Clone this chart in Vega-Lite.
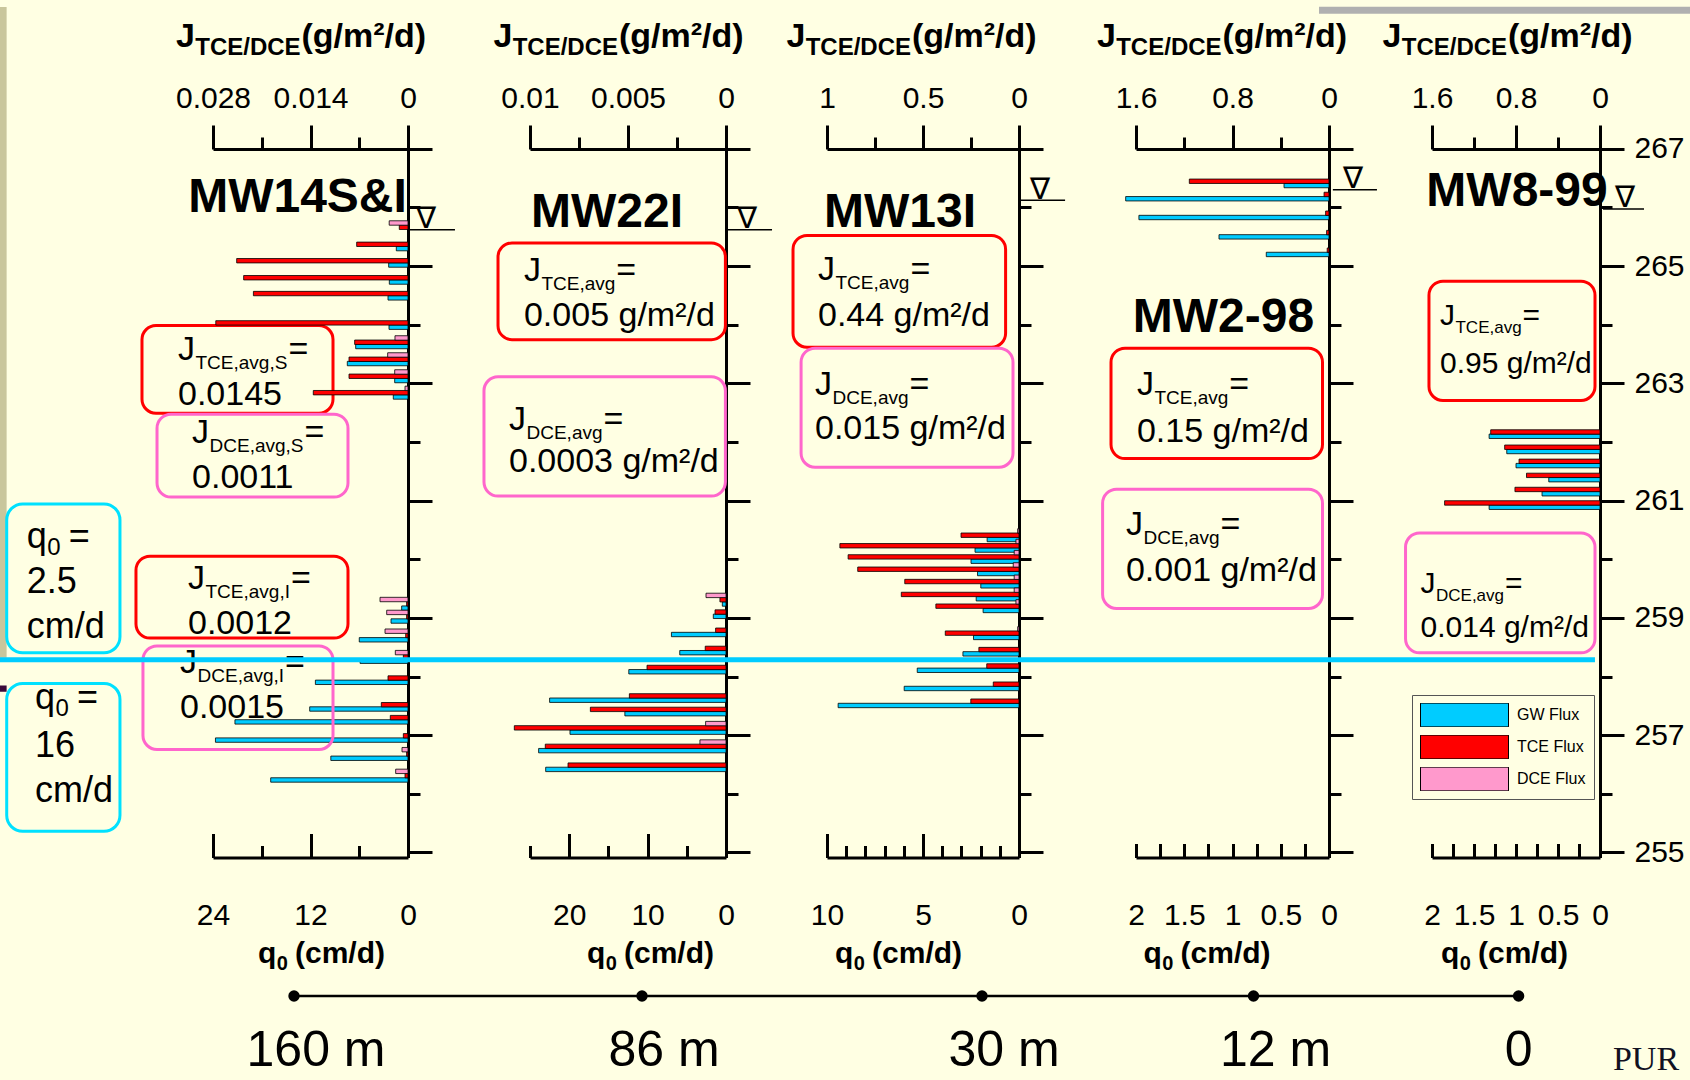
{
"$schema": "https://vega.github.io/schema/vega-lite/v6.json",
"width": 1690,
"height": 1080,
"autosize": "none",
"padding": 0,
"background": "#FFFFE3",
"config": {
 "view": {"stroke": null},
 "axis": {"disable": true, "grid": false, "domainColor": "black", "domainWidth": 3, "tickColor": "black", "tickWidth": 3, "labelFont": "Liberation Sans", "labelFontSize": 30, "labelColor": "black", "labelOverlap": false, "labelFlush": false, "labelBound": false},
 "text": {"font": "Liberation Sans", "color": "black", "align": "left", "baseline": "alphabetic"}
},
"data": {"values": [{}]},
"datasets": {
 "flux": [
{"well":"MW14S&I","series":"TCE Flux","elev":265.66,"value":0.00125},
{"well":"MW14S&I","series":"TCE Flux","elev":265.37,"value":0.00737},
{"well":"MW14S&I","series":"TCE Flux","elev":265.09,"value":0.0246},
{"well":"MW14S&I","series":"TCE Flux","elev":264.8,"value":0.0236},
{"well":"MW14S&I","series":"TCE Flux","elev":264.53,"value":0.0222},
{"well":"MW14S&I","series":"TCE Flux","elev":264.03,"value":0.0276},
{"well":"MW14S&I","series":"TCE Flux","elev":263.7,"value":0.00766},
{"well":"MW14S&I","series":"TCE Flux","elev":263.41,"value":0.00847},
{"well":"MW14S&I","series":"TCE Flux","elev":263.12,"value":0.00847},
{"well":"MW14S&I","series":"TCE Flux","elev":262.84,"value":0.0136},
{"well":"MW14S&I","series":"TCE Flux","elev":259.24,"value":0.0002},
{"well":"MW14S&I","series":"TCE Flux","elev":259.02,"value":0.0002},
{"well":"MW14S&I","series":"TCE Flux","elev":258.7,"value":0.00033},
{"well":"MW14S&I","series":"TCE Flux","elev":258.335,"value":0.00067},
{"well":"MW14S&I","series":"TCE Flux","elev":257.975,"value":0.00287},
{"well":"MW14S&I","series":"TCE Flux","elev":257.52,"value":0.00383},
{"well":"MW14S&I","series":"TCE Flux","elev":257.3,"value":0.00254},
{"well":"MW14S&I","series":"TCE Flux","elev":256.99,"value":0.00067},
{"well":"MW14S&I","series":"TCE Flux","elev":256.68,"value":0.0002},
{"well":"MW14S&I","series":"TCE Flux","elev":256.31,"value":0.00043},
{"well":"MW14S&I","series":"DCE Flux","elev":265.66,"value":0.0027},
{"well":"MW14S&I","series":"DCE Flux","elev":263.7,"value":0.00187},
{"well":"MW14S&I","series":"DCE Flux","elev":263.41,"value":0.00292},
{"well":"MW14S&I","series":"DCE Flux","elev":263.12,"value":0.00191},
{"well":"MW14S&I","series":"DCE Flux","elev":262.84,"value":0.00043},
{"well":"MW14S&I","series":"DCE Flux","elev":259.24,"value":0.00402},
{"well":"MW14S&I","series":"DCE Flux","elev":259.02,"value":0.00306},
{"well":"MW14S&I","series":"DCE Flux","elev":258.7,"value":0.0033},
{"well":"MW14S&I","series":"DCE Flux","elev":258.335,"value":0.00182},
{"well":"MW14S&I","series":"DCE Flux","elev":256.68,"value":0.00086},
{"well":"MW14S&I","series":"DCE Flux","elev":256.31,"value":0.00177},
{"well":"MW14S&I","series":"GW Flux","elev":265.37,"value":1.44},
{"well":"MW14S&I","series":"GW Flux","elev":265.09,"value":2.38},
{"well":"MW14S&I","series":"GW Flux","elev":264.8,"value":2.3},
{"well":"MW14S&I","series":"GW Flux","elev":264.53,"value":2.46},
{"well":"MW14S&I","series":"GW Flux","elev":264.03,"value":2.34},
{"well":"MW14S&I","series":"GW Flux","elev":263.7,"value":6.44},
{"well":"MW14S&I","series":"GW Flux","elev":263.41,"value":7.47},
{"well":"MW14S&I","series":"GW Flux","elev":263.12,"value":1.64},
{"well":"MW14S&I","series":"GW Flux","elev":262.84,"value":1.81},
{"well":"MW14S&I","series":"GW Flux","elev":259.24,"value":0.78},
{"well":"MW14S&I","series":"GW Flux","elev":259.02,"value":2.09},
{"well":"MW14S&I","series":"GW Flux","elev":258.7,"value":6.0},
{"well":"MW14S&I","series":"GW Flux","elev":258.335,"value":5.9},
{"well":"MW14S&I","series":"GW Flux","elev":257.975,"value":11.4},
{"well":"MW14S&I","series":"GW Flux","elev":257.52,"value":12.1},
{"well":"MW14S&I","series":"GW Flux","elev":257.3,"value":21.3},
{"well":"MW14S&I","series":"GW Flux","elev":256.99,"value":23.7},
{"well":"MW14S&I","series":"GW Flux","elev":256.68,"value":9.5},
{"well":"MW14S&I","series":"GW Flux","elev":256.31,"value":16.9},
{"well":"MW22I","series":"TCE Flux","elev":259.31,"value":0.00031},
{"well":"MW22I","series":"TCE Flux","elev":259.1,"value":0.00056},
{"well":"MW22I","series":"TCE Flux","elev":258.79,"value":0.00053},
{"well":"MW22I","series":"TCE Flux","elev":258.48,"value":0.00106},
{"well":"MW22I","series":"TCE Flux","elev":258.155,"value":0.00403},
{"well":"MW22I","series":"TCE Flux","elev":257.67,"value":0.00493},
{"well":"MW22I","series":"TCE Flux","elev":257.44,"value":0.00692},
{"well":"MW22I","series":"TCE Flux","elev":257.125,"value":0.0108},
{"well":"MW22I","series":"TCE Flux","elev":256.81,"value":0.00922},
{"well":"MW22I","series":"TCE Flux","elev":256.49,"value":0.00806},
{"well":"MW22I","series":"DCE Flux","elev":259.31,"value":0.00102},
{"well":"MW22I","series":"DCE Flux","elev":257.125,"value":0.00104},
{"well":"MW22I","series":"DCE Flux","elev":256.81,"value":0.00133},
{"well":"MW22I","series":"GW Flux","elev":259.31,"value":0.47},
{"well":"MW22I","series":"GW Flux","elev":259.1,"value":1.62},
{"well":"MW22I","series":"GW Flux","elev":258.79,"value":6.96},
{"well":"MW22I","series":"GW Flux","elev":258.48,"value":5.9},
{"well":"MW22I","series":"GW Flux","elev":258.155,"value":12.4},
{"well":"MW22I","series":"GW Flux","elev":257.67,"value":22.5},
{"well":"MW22I","series":"GW Flux","elev":257.44,"value":12.9},
{"well":"MW22I","series":"GW Flux","elev":257.125,"value":19.9},
{"well":"MW22I","series":"GW Flux","elev":256.81,"value":23.9},
{"well":"MW22I","series":"GW Flux","elev":256.49,"value":23.0},
{"well":"MW13I","series":"TCE Flux","elev":260.41,"value":0.302},
{"well":"MW13I","series":"TCE Flux","elev":260.23,"value":0.933},
{"well":"MW13I","series":"TCE Flux","elev":260.04,"value":0.89},
{"well":"MW13I","series":"TCE Flux","elev":259.83,"value":0.84},
{"well":"MW13I","series":"TCE Flux","elev":259.62,"value":0.595},
{"well":"MW13I","series":"TCE Flux","elev":259.4,"value":0.613},
{"well":"MW13I","series":"TCE Flux","elev":259.2,"value":0.433},
{"well":"MW13I","series":"TCE Flux","elev":258.74,"value":0.384},
{"well":"MW13I","series":"TCE Flux","elev":258.46,"value":0.209},
{"well":"MW13I","series":"TCE Flux","elev":258.18,"value":0.168},
{"well":"MW13I","series":"TCE Flux","elev":257.87,"value":0.134},
{"well":"MW13I","series":"TCE Flux","elev":257.58,"value":0.251},
{"well":"MW13I","series":"DCE Flux","elev":260.41,"value":0.007},
{"well":"MW13I","series":"DCE Flux","elev":260.23,"value":0.016},
{"well":"MW13I","series":"DCE Flux","elev":260.04,"value":0.025},
{"well":"MW13I","series":"DCE Flux","elev":259.83,"value":0.03},
{"well":"MW13I","series":"DCE Flux","elev":259.62,"value":0.025},
{"well":"MW13I","series":"DCE Flux","elev":259.4,"value":0.025},
{"well":"MW13I","series":"DCE Flux","elev":259.2,"value":0.016},
{"well":"MW13I","series":"DCE Flux","elev":258.74,"value":0.007},
{"well":"MW13I","series":"GW Flux","elev":260.41,"value":1.66},
{"well":"MW13I","series":"GW Flux","elev":260.23,"value":2.29},
{"well":"MW13I","series":"GW Flux","elev":260.04,"value":2.5},
{"well":"MW13I","series":"GW Flux","elev":259.83,"value":2.16},
{"well":"MW13I","series":"GW Flux","elev":259.62,"value":1.99},
{"well":"MW13I","series":"GW Flux","elev":259.4,"value":2.23},
{"well":"MW13I","series":"GW Flux","elev":259.2,"value":1.87},
{"well":"MW13I","series":"GW Flux","elev":258.74,"value":2.37},
{"well":"MW13I","series":"GW Flux","elev":258.46,"value":2.92},
{"well":"MW13I","series":"GW Flux","elev":258.18,"value":5.3},
{"well":"MW13I","series":"GW Flux","elev":257.87,"value":5.98},
{"well":"MW13I","series":"GW Flux","elev":257.58,"value":9.42},
{"well":"MW2-98","series":"TCE Flux","elev":266.445,"value":1.158},
{"well":"MW2-98","series":"TCE Flux","elev":266.22,"value":0.041},
{"well":"MW2-98","series":"TCE Flux","elev":265.9,"value":0.028},
{"well":"MW2-98","series":"TCE Flux","elev":265.57,"value":0.02},
{"well":"MW2-98","series":"TCE Flux","elev":265.27,"value":0.015},
{"well":"MW2-98","series":"GW Flux","elev":266.445,"value":0.466},
{"well":"MW2-98","series":"GW Flux","elev":266.22,"value":2.107},
{"well":"MW2-98","series":"GW Flux","elev":265.9,"value":1.97},
{"well":"MW2-98","series":"GW Flux","elev":265.57,"value":1.14},
{"well":"MW2-98","series":"GW Flux","elev":265.27,"value":0.65},
{"well":"MW8-99","series":"TCE Flux","elev":262.17,"value":1.041},
{"well":"MW8-99","series":"TCE Flux","elev":261.91,"value":0.908},
{"well":"MW8-99","series":"TCE Flux","elev":261.67,"value":0.771},
{"well":"MW8-99","series":"TCE Flux","elev":261.43,"value":0.7},
{"well":"MW8-99","series":"TCE Flux","elev":261.19,"value":0.81},
{"well":"MW8-99","series":"TCE Flux","elev":260.96,"value":1.48},
{"well":"MW8-99","series":"GW Flux","elev":262.17,"value":1.32},
{"well":"MW8-99","series":"GW Flux","elev":261.91,"value":1.11},
{"well":"MW8-99","series":"GW Flux","elev":261.67,"value":1.0},
{"well":"MW8-99","series":"GW Flux","elev":261.43,"value":0.61},
{"well":"MW8-99","series":"GW Flux","elev":261.19,"value":0.69},
{"well":"MW8-99","series":"GW Flux","elev":260.96,"value":1.32}
 ],
 "dist": [
  {"dist": 160, "label": "160 m"},
  {"dist": 86, "label": "86 m"},
  {"dist": 30, "label": "30 m"},
  {"dist": 12, "label": "12 m"},
  {"dist": 0, "label": "0"}
 ]
},
"layer": [
 {"layer": [
  {"layer": [
   {"data": {"name": "flux"},
    "transform": [{"filter": "datum.well==='MW14S&I'&&datum.series==='GW Flux'"}],
    "mark": {"type": "bar", "orient": "horizontal", "size": 4.4, "yOffset": 4.3, "stroke": "black", "strokeWidth": 0.8},
    "encoding": {
     "x": {"field": "value", "type": "quantitative", "stack": null, "scale": {"domain": [0, 24], "range": [408, 213], "nice": false, "zero": false}, "axis": {"orient": "bottom", "offset": -222.5, "values": [0, 12, 24], "tickSize": -24, "labelPadding": 66.5, "format": ".3~f", "title": null}},
     "y": {"field": "elev", "type": "quantitative", "scale": {"domain": [255, 267], "range": [857.5, 143.7], "nice": false, "zero": false}},
     "color": {"field": "series", "type": "nominal", "scale": {"domain": ["GW Flux", "TCE Flux", "DCE Flux"], "range": ["#00CCFF", "#FF0000", "#FF99CC"]},
      "legend": {"orient": "none", "legendX": 1412, "legendY": 695, "direction": "vertical", "title": null, "symbolType": "M-1,-0.27H1V0.27H-1Z", "symbolSize": 7744, "clipHeight": 24, "rowPadding": 8, "padding": 8, "strokeColor": "#555555", "labelFont": "'Liberation Sans Narrow', 'Liberation Sans', sans-serif", "labelFontSize": 16, "labelColor": "black", "labelOffset": 8, "symbolStrokeColor": "black", "symbolStrokeWidth": 1, "symbolOpacity": 1}}
    }},
   {"mark": {"type": "rect", "fill": "#C9C69C"}, "encoding": {"x": {"datum": 50.22}, "x2": {"datum": 49.4}, "y": {"datum": 269.416}, "y2": {"datum": 258.32}}},
   {"mark": {"type": "rect", "fill": "#3A0A3A"}, "encoding": {"x": {"datum": 50.22}, "x2": {"datum": 49.4}, "y": {"datum": 257.849}, "y2": {"datum": 257.74}}},
   {"mark": {"type": "text", "fontSize": 34, "fontWeight": "bold"}, "encoding": {"x": {"datum": 28.55}, "y": {"datum": 268.74}, "text": {"value": "J"}}},
   {"mark": {"type": "text", "fontSize": 24, "fontWeight": "bold", "dx": 19.2, "dy": 8}, "encoding": {"x": {"datum": 28.55}, "y": {"datum": 268.74}, "text": {"value": "TCE/DCE"}}},
   {"mark": {"type": "text", "fontSize": 34, "fontWeight": "bold", "dx": 125.5}, "encoding": {"x": {"datum": 28.55}, "y": {"datum": 268.74}, "text": {"value": "(g/m²/d)"}}},
   {"mark": {"type": "text", "fontSize": 30, "fontWeight": "bold"}, "encoding": {"x": {"datum": 18.46, "axis": {"orient": "bottom", "offset": -222.5, "values": [6, 18], "tickSize": -12, "labels": false, "domain": false, "title": null}}, "y": {"datum": 253.12}, "text": {"value": "q"}}},
   {"mark": {"type": "text", "fontSize": 20, "fontWeight": "bold", "dx": 18.8, "dy": 7}, "encoding": {"x": {"datum": 18.46}, "y": {"datum": 253.12}, "text": {"value": "0"}}},
   {"mark": {"type": "text", "fontSize": 30, "fontWeight": "bold", "dx": 37}, "encoding": {"x": {"datum": 18.46}, "y": {"datum": 253.12}, "text": {"value": "(cm/d)"}}},
   {"mark": {"type": "text", "align": "center", "fontSize": 48, "fontWeight": "bold"}, "encoding": {"x": {"datum": 13.6}, "y": {"datum": 265.92}, "text": {"value": "MW14S&I"}}},
   {"mark": {"type": "text", "align": "center", "fontSize": 30, "font": "DejaVu Sans"}, "encoding": {"x": {"datum": -2.215}, "y": {"datum": 265.65}, "text": {"value": "∇"}}},
   {"mark": {"type": "rule", "color": "black", "strokeWidth": 1.5}, "encoding": {"x": {"datum": 0}, "x2": {"datum": -5.78}, "y": {"datum": 265.616}}},

   {"mark": {"type": "rect", "fill": "transparent", "stroke": "#FF0000", "strokeWidth": 3, "cornerRadius": 14}, "encoding": {"x": {"datum": 32.74}, "x2": {"datum": 9.23}, "y": {"datum": 263.986}, "y2": {"datum": 262.489}}},
   {"mark": {"type": "text", "fontSize": 34}, "encoding": {"x": {"datum": 28.31}, "y": {"datum": 263.397}, "text": {"value": "J"}}},
   {"mark": {"type": "text", "fontSize": 19, "dx": 17.5, "dy": 9}, "encoding": {"x": {"datum": 28.31}, "y": {"datum": 263.397}, "text": {"value": "TCE,avg,S"}}},
   {"mark": {"type": "text", "fontSize": 34, "dx": 110.4}, "encoding": {"x": {"datum": 28.31}, "y": {"datum": 263.397}, "text": {"value": "="}}},
   {"mark": {"type": "text", "fontSize": 34, "dy": 45}, "encoding": {"x": {"datum": 28.31}, "y": {"datum": 263.397}, "text": {"value": "0.0145"}}},

   {"mark": {"type": "rect", "fill": "transparent", "stroke": "#FF66CC", "strokeWidth": 3, "cornerRadius": 14}, "encoding": {"x": {"datum": 30.89}, "x2": {"datum": 7.385}, "y": {"datum": 262.473}, "y2": {"datum": 261.06}}},
   {"mark": {"type": "text", "fontSize": 34}, "encoding": {"x": {"datum": 26.58}, "y": {"datum": 261.985}, "text": {"value": "J"}}},
   {"mark": {"type": "text", "fontSize": 19, "dx": 17.5, "dy": 9}, "encoding": {"x": {"datum": 26.58}, "y": {"datum": 261.985}, "text": {"value": "DCE,avg,S"}}},
   {"mark": {"type": "text", "fontSize": 34, "dx": 112.5}, "encoding": {"x": {"datum": 26.58}, "y": {"datum": 261.985}, "text": {"value": "="}}},
   {"mark": {"type": "text", "fontSize": 34, "dy": 45}, "encoding": {"x": {"datum": 26.58}, "y": {"datum": 261.985}, "text": {"value": "0.0011"}}},

   {"mark": {"type": "rect", "fill": "transparent", "stroke": "#FF0000", "strokeWidth": 3, "cornerRadius": 14}, "encoding": {"x": {"datum": 33.48}, "x2": {"datum": 7.385}, "y": {"datum": 260.052}, "y2": {"datum": 258.656}}},
   {"mark": {"type": "text", "fontSize": 34}, "encoding": {"x": {"datum": 27.08}, "y": {"datum": 259.497}, "text": {"value": "J"}}},
   {"mark": {"type": "text", "fontSize": 19, "dx": 17.5, "dy": 9}, "encoding": {"x": {"datum": 27.08}, "y": {"datum": 259.497}, "text": {"value": "TCE,avg,I"}}},
   {"mark": {"type": "text", "fontSize": 34, "dx": 103}, "encoding": {"x": {"datum": 27.08}, "y": {"datum": 259.497}, "text": {"value": "="}}},
   {"mark": {"type": "text", "fontSize": 34, "dy": 45}, "encoding": {"x": {"datum": 27.08}, "y": {"datum": 259.497}, "text": {"value": "0.0012"}}},

   {"mark": {"type": "rect", "fill": "transparent", "stroke": "#FF66CC", "strokeWidth": 3, "cornerRadius": 14}, "encoding": {"x": {"datum": 32.62}, "x2": {"datum": 9.23}, "y": {"datum": 258.522}, "y2": {"datum": 256.757}}},
   {"mark": {"type": "text", "fontSize": 34}, "encoding": {"x": {"datum": 28.06}, "y": {"datum": 258.068}, "text": {"value": "J"}}},
   {"mark": {"type": "text", "fontSize": 19, "dx": 17.5, "dy": 9}, "encoding": {"x": {"datum": 28.06}, "y": {"datum": 258.068}, "text": {"value": "DCE,avg,I"}}},
   {"mark": {"type": "text", "fontSize": 34, "dx": 105.1}, "encoding": {"x": {"datum": 28.06}, "y": {"datum": 258.068}, "text": {"value": "="}}},
   {"mark": {"type": "text", "fontSize": 34, "dy": 45}, "encoding": {"x": {"datum": 28.06}, "y": {"datum": 258.068}, "text": {"value": "0.0015"}}},

   {"mark": {"type": "rect", "fill": "transparent", "stroke": "#00E1FF", "strokeWidth": 3, "cornerRadius": 16}, "encoding": {"x": {"datum": 49.39}, "x2": {"datum": 35.45}, "y": {"datum": 260.943}, "y2": {"datum": 258.404}}},
   {"mark": {"type": "text", "fontSize": 36}, "encoding": {"x": {"datum": 46.93}, "y": {"datum": 260.186}, "text": {"value": "q"}}},
   {"mark": {"type": "text", "fontSize": 24, "dx": 20.5, "dy": 7}, "encoding": {"x": {"datum": 46.93}, "y": {"datum": 260.186}, "text": {"value": "0"}}},
   {"mark": {"type": "text", "fontSize": 36, "dx": 42}, "encoding": {"x": {"datum": 46.93}, "y": {"datum": 260.186}, "text": {"value": "="}}},
   {"mark": {"type": "text", "fontSize": 36, "dy": 44.5, "lineHeight": 45}, "encoding": {"x": {"datum": 46.93}, "y": {"datum": 260.186}, "text": {"value": ["2.5", "cm/d"]}}},

   {"mark": {"type": "rect", "fill": "transparent", "stroke": "#00E1FF", "strokeWidth": 3, "cornerRadius": 16}, "encoding": {"x": {"datum": 49.39}, "x2": {"datum": 35.45}, "y": {"datum": 257.883}, "y2": {"datum": 255.362}}},
   {"mark": {"type": "text", "fontSize": 36}, "encoding": {"x": {"datum": 45.91}, "y": {"datum": 257.446}, "text": {"value": "q"}}},
   {"mark": {"type": "text", "fontSize": 24, "dx": 20.5, "dy": 7}, "encoding": {"x": {"datum": 45.91}, "y": {"datum": 257.446}, "text": {"value": "0"}}},
   {"mark": {"type": "text", "fontSize": 36, "dx": 42}, "encoding": {"x": {"datum": 45.91}, "y": {"datum": 257.446}, "text": {"value": "="}}},
   {"mark": {"type": "text", "fontSize": 36, "dy": 48, "lineHeight": 45}, "encoding": {"x": {"datum": 45.91}, "y": {"datum": 257.446}, "text": {"value": ["16", "cm/d"]}}}
  ], "resolve": {"axis": {"x": "independent", "y": "independent"}}},
  {"layer": [
   {"data": {"name": "flux"},
    "transform": [{"filter": "datum.well==='MW14S&I'&&datum.series==='TCE Flux'"}],
    "mark": {"type": "bar", "orient": "horizontal", "size": 4.4, "stroke": "black", "strokeWidth": 0.8},
    "encoding": {
     "x": {"field": "value", "type": "quantitative", "stack": null, "scale": {"domain": [0, 0.028], "range": [408, 213], "nice": false, "zero": false}, "axis": {"orient": "top", "offset": -149, "values": [0, 0.014, 0.028], "tickSize": 24, "labelPadding": 12, "format": ".3~f", "title": null}},
     "y": {"field": "elev", "type": "quantitative", "axis": {"orient": "right", "offset": -1282, "values": [255, 257, 259, 261, 263, 265, 267], "tickSize": 24, "labels": false, "title": null}},
     "color": {"field": "series", "type": "nominal"}
    }},
   {"data": {"name": "flux"},
    "transform": [{"filter": "datum.well==='MW14S&I'&&datum.series==='DCE Flux'"}],
    "mark": {"type": "bar", "orient": "horizontal", "size": 4.4, "yOffset": -4.3, "stroke": "black", "strokeWidth": 0.8},
    "encoding": {
     "x": {"field": "value", "type": "quantitative", "stack": null, "scale": {"domain": [0, 0.028], "range": [408, 213], "nice": false, "zero": false}, "axis": {"orient": "top", "offset": -149, "values": [0.007, 0.021], "tickSize": 12, "labels": false, "domain": false, "title": null}},
     "y": {"field": "elev", "type": "quantitative", "axis": {"orient": "right", "offset": -1282, "values": [256, 258, 260, 262, 264, 266], "tickSize": 12, "labels": false, "domain": false, "title": null}},
     "color": {"field": "series", "type": "nominal"}
    }}
  ], "resolve": {"axis": {"x": "independent", "y": "independent"}}}
 ], "resolve": {"scale": {"x": "independent"}, "axis": {"x": "independent", "y": "independent"}}},

 {"layer": [
  {"layer": [
   {"data": {"name": "flux"},
    "transform": [{"filter": "datum.well==='MW22I'&&datum.series==='GW Flux'"}],
    "mark": {"type": "bar", "orient": "horizontal", "size": 4.4, "yOffset": 4.3, "stroke": "black", "strokeWidth": 0.8},
    "encoding": {
     "x": {"field": "value", "type": "quantitative", "stack": null, "scale": {"domain": [0, 25], "range": [726, 530], "nice": false, "zero": false}, "axis": {"orient": "bottom", "offset": -222.5, "values": [0, 10, 20], "tickSize": -24, "labelPadding": 66.5, "format": ".3~f", "title": null}},
     "y": {"field": "elev", "type": "quantitative"},
     "color": {"field": "series", "type": "nominal"}
    }},
   {"mark": {"type": "text", "fontSize": 34, "fontWeight": "bold"}, "encoding": {"x": {"datum": 29.66}, "y": {"datum": 268.74}, "text": {"value": "J"}}},
   {"mark": {"type": "text", "fontSize": 24, "fontWeight": "bold", "dx": 19.2, "dy": 8}, "encoding": {"x": {"datum": 29.66}, "y": {"datum": 268.74}, "text": {"value": "TCE/DCE"}}},
   {"mark": {"type": "text", "fontSize": 34, "fontWeight": "bold", "dx": 125.5}, "encoding": {"x": {"datum": 29.66}, "y": {"datum": 268.74}, "text": {"value": "(g/m²/d)"}}},
   {"mark": {"type": "text", "fontSize": 30, "fontWeight": "bold"}, "encoding": {"x": {"datum": 17.73, "axis": {"orient": "bottom", "offset": -222.5, "values": [5, 15, 25], "tickSize": -12, "labels": false, "domain": false, "title": null}}, "y": {"datum": 253.12}, "text": {"value": "q"}}},
   {"mark": {"type": "text", "fontSize": 20, "fontWeight": "bold", "dx": 18.8, "dy": 7}, "encoding": {"x": {"datum": 17.73}, "y": {"datum": 253.12}, "text": {"value": "0"}}},
   {"mark": {"type": "text", "fontSize": 30, "fontWeight": "bold", "dx": 37}, "encoding": {"x": {"datum": 17.73}, "y": {"datum": 253.12}, "text": {"value": "(cm/d)"}}},
   {"mark": {"type": "text", "align": "center", "fontSize": 48, "fontWeight": "bold"}, "encoding": {"x": {"datum": 15.18}, "y": {"datum": 265.67}, "text": {"value": "MW22I"}}},
   {"mark": {"type": "text", "align": "center", "fontSize": 30, "font": "DejaVu Sans"}, "encoding": {"x": {"datum": -2.68}, "y": {"datum": 265.65}, "text": {"value": "∇"}}},
   {"mark": {"type": "rule", "color": "black", "strokeWidth": 1.5}, "encoding": {"x": {"datum": 0}, "x2": {"datum": -5.87}, "y": {"datum": 265.616}}},

   {"mark": {"type": "rect", "fill": "transparent", "stroke": "#FF0000", "strokeWidth": 3, "cornerRadius": 14}, "encoding": {"x": {"datum": 29.08}, "x2": {"datum": 0.077}, "y": {"datum": 265.393}, "y2": {"datum": 263.744}}},
   {"mark": {"type": "text", "fontSize": 34}, "encoding": {"x": {"datum": 25.77}, "y": {"datum": 264.742}, "text": {"value": "J"}}},
   {"mark": {"type": "text", "fontSize": 19, "dx": 17.5, "dy": 9}, "encoding": {"x": {"datum": 25.77}, "y": {"datum": 264.742}, "text": {"value": "TCE,avg"}}},
   {"mark": {"type": "text", "fontSize": 34, "dx": 92.4}, "encoding": {"x": {"datum": 25.77}, "y": {"datum": 264.742}, "text": {"value": "="}}},
   {"mark": {"type": "text", "fontSize": 34, "dy": 45}, "encoding": {"x": {"datum": 25.77}, "y": {"datum": 264.742}, "text": {"value": "0.005 g/m²/d"}}},

   {"mark": {"type": "rect", "fill": "transparent", "stroke": "#FF66CC", "strokeWidth": 3, "cornerRadius": 14}, "encoding": {"x": {"datum": 30.87}, "x2": {"datum": 0.077}, "y": {"datum": 263.111}, "y2": {"datum": 261.077}}},
   {"mark": {"type": "text", "fontSize": 34}, "encoding": {"x": {"datum": 27.68}, "y": {"datum": 262.204}, "text": {"value": "J"}}},
   {"mark": {"type": "text", "fontSize": 19, "dx": 17.5, "dy": 9}, "encoding": {"x": {"datum": 27.68}, "y": {"datum": 262.204}, "text": {"value": "DCE,avg"}}},
   {"mark": {"type": "text", "fontSize": 34, "dx": 94.5}, "encoding": {"x": {"datum": 27.68}, "y": {"datum": 262.204}, "text": {"value": "="}}},
   {"mark": {"type": "text", "fontSize": 34, "dy": 42}, "encoding": {"x": {"datum": 27.68}, "y": {"datum": 262.204}, "text": {"value": "0.0003 g/m²/d"}}}
  ], "resolve": {"axis": {"x": "independent", "y": "independent"}}},
  {"layer": [
   {"data": {"name": "flux"},
    "transform": [{"filter": "datum.well==='MW22I'&&datum.series==='TCE Flux'"}],
    "mark": {"type": "bar", "orient": "horizontal", "size": 4.4, "stroke": "black", "strokeWidth": 0.8},
    "encoding": {
     "x": {"field": "value", "type": "quantitative", "stack": null, "scale": {"domain": [0, 0.01], "range": [726, 530], "nice": false, "zero": false}, "axis": {"orient": "top", "offset": -149, "values": [0, 0.005, 0.01], "tickSize": 24, "labelPadding": 12, "format": ".3~f", "title": null}},
     "y": {"field": "elev", "type": "quantitative", "axis": {"orient": "right", "offset": -964, "values": [255, 257, 259, 261, 263, 265, 267], "tickSize": 24, "labels": false, "title": null}},
     "color": {"field": "series", "type": "nominal"}
    }},
   {"data": {"name": "flux"},
    "transform": [{"filter": "datum.well==='MW22I'&&datum.series==='DCE Flux'"}],
    "mark": {"type": "bar", "orient": "horizontal", "size": 4.4, "yOffset": -4.3, "stroke": "black", "strokeWidth": 0.8},
    "encoding": {
     "x": {"field": "value", "type": "quantitative", "stack": null, "scale": {"domain": [0, 0.01], "range": [726, 530], "nice": false, "zero": false}, "axis": {"orient": "top", "offset": -149, "values": [0.0025, 0.0075], "tickSize": 12, "labels": false, "domain": false, "title": null}},
     "y": {"field": "elev", "type": "quantitative", "axis": {"orient": "right", "offset": -964, "values": [256, 258, 260, 262, 264, 266], "tickSize": 12, "labels": false, "domain": false, "title": null}},
     "color": {"field": "series", "type": "nominal"}
    }}
  ], "resolve": {"axis": {"x": "independent", "y": "independent"}}}
 ], "resolve": {"scale": {"x": "independent"}, "axis": {"x": "independent", "y": "independent"}}},

 {"layer": [
  {"layer": [
   {"data": {"name": "flux"},
    "transform": [{"filter": "datum.well==='MW13I'&&datum.series==='GW Flux'"}],
    "mark": {"type": "bar", "orient": "horizontal", "size": 4.4, "yOffset": 4.3, "stroke": "black", "strokeWidth": 0.8},
    "encoding": {
     "x": {"field": "value", "type": "quantitative", "stack": null, "scale": {"domain": [0, 10], "range": [1019, 827], "nice": false, "zero": false}, "axis": {"orient": "bottom", "offset": -222.5, "values": [0, 5, 10], "tickSize": -24, "labelPadding": 66.5, "format": ".3~f", "title": null}},
     "y": {"field": "elev", "type": "quantitative"},
     "color": {"field": "series", "type": "nominal"}
    }},
   {"mark": {"type": "text", "fontSize": 34, "fontWeight": "bold"}, "encoding": {"x": {"datum": 12.11}, "y": {"datum": 268.74}, "text": {"value": "J"}}},
   {"mark": {"type": "text", "fontSize": 24, "fontWeight": "bold", "dx": 19.2, "dy": 8}, "encoding": {"x": {"datum": 12.11}, "y": {"datum": 268.74}, "text": {"value": "TCE/DCE"}}},
   {"mark": {"type": "text", "fontSize": 34, "fontWeight": "bold", "dx": 125.5}, "encoding": {"x": {"datum": 12.11}, "y": {"datum": 268.74}, "text": {"value": "(g/m²/d)"}}},
   {"mark": {"type": "text", "fontSize": 30, "fontWeight": "bold"}, "encoding": {"x": {"datum": 9.58, "axis": {"orient": "bottom", "offset": -222.5, "values": [1, 2, 3, 4, 6, 7, 8, 9], "tickSize": -12, "labels": false, "domain": false, "title": null}}, "y": {"datum": 253.12}, "text": {"value": "q"}}},
   {"mark": {"type": "text", "fontSize": 20, "fontWeight": "bold", "dx": 18.8, "dy": 7}, "encoding": {"x": {"datum": 9.58}, "y": {"datum": 253.12}, "text": {"value": "0"}}},
   {"mark": {"type": "text", "fontSize": 30, "fontWeight": "bold", "dx": 37}, "encoding": {"x": {"datum": 9.58}, "y": {"datum": 253.12}, "text": {"value": "(cm/d)"}}},
   {"mark": {"type": "text", "align": "center", "fontSize": 48, "fontWeight": "bold"}, "encoding": {"x": {"datum": 6.2}, "y": {"datum": 265.67}, "text": {"value": "MW13I"}}},
   {"mark": {"type": "text", "align": "center", "fontSize": 30, "font": "DejaVu Sans"}, "encoding": {"x": {"datum": -1.09}, "y": {"datum": 266.15}, "text": {"value": "∇"}}},
   {"mark": {"type": "rule", "color": "black", "strokeWidth": 1.5}, "encoding": {"x": {"datum": -0.1}, "x2": {"datum": -2.4}, "y": {"datum": 266.12}}},

   {"mark": {"type": "rect", "fill": "transparent", "stroke": "#FF0000", "strokeWidth": 3, "cornerRadius": 14}, "encoding": {"x": {"datum": 11.77}, "x2": {"datum": 0.698}, "y": {"datum": 265.521}, "y2": {"datum": 263.616}}},
   {"mark": {"type": "text", "fontSize": 34}, "encoding": {"x": {"datum": 10.47}, "y": {"datum": 264.759}, "text": {"value": "J"}}},
   {"mark": {"type": "text", "fontSize": 19, "dx": 17.5, "dy": 9}, "encoding": {"x": {"datum": 10.47}, "y": {"datum": 264.759}, "text": {"value": "TCE,avg"}}},
   {"mark": {"type": "text", "fontSize": 34, "dx": 92.4}, "encoding": {"x": {"datum": 10.47}, "y": {"datum": 264.759}, "text": {"value": "="}}},
   {"mark": {"type": "text", "fontSize": 34, "dy": 46}, "encoding": {"x": {"datum": 10.47}, "y": {"datum": 264.759}, "text": {"value": "0.44 g/m²/d"}}},

   {"mark": {"type": "rect", "fill": "transparent", "stroke": "#FF66CC", "strokeWidth": 3, "cornerRadius": 14}, "encoding": {"x": {"datum": 11.35}, "x2": {"datum": 0.3125}, "y": {"datum": 263.599}, "y2": {"datum": 261.57}}},
   {"mark": {"type": "text", "fontSize": 34}, "encoding": {"x": {"datum": 10.625}, "y": {"datum": 262.809}, "text": {"value": "J"}}},
   {"mark": {"type": "text", "fontSize": 19, "dx": 17.5, "dy": 9}, "encoding": {"x": {"datum": 10.625}, "y": {"datum": 262.809}, "text": {"value": "DCE,avg"}}},
   {"mark": {"type": "text", "fontSize": 34, "dx": 94.5}, "encoding": {"x": {"datum": 10.625}, "y": {"datum": 262.809}, "text": {"value": "="}}},
   {"mark": {"type": "text", "fontSize": 34, "dy": 44}, "encoding": {"x": {"datum": 10.625}, "y": {"datum": 262.809}, "text": {"value": "0.015 g/m²/d"}}}
  ], "resolve": {"axis": {"x": "independent", "y": "independent"}}},
  {"layer": [
   {"data": {"name": "flux"},
    "transform": [{"filter": "datum.well==='MW13I'&&datum.series==='TCE Flux'"}],
    "mark": {"type": "bar", "orient": "horizontal", "size": 4.4, "stroke": "black", "strokeWidth": 0.8},
    "encoding": {
     "x": {"field": "value", "type": "quantitative", "stack": null, "scale": {"domain": [0, 1], "range": [1019, 827], "nice": false, "zero": false}, "axis": {"orient": "top", "offset": -149, "values": [0, 0.5, 1], "tickSize": 24, "labelPadding": 12, "format": ".3~f", "title": null}},
     "y": {"field": "elev", "type": "quantitative", "axis": {"orient": "right", "offset": -671, "values": [255, 257, 259, 261, 263, 265, 267], "tickSize": 24, "labels": false, "title": null}},
     "color": {"field": "series", "type": "nominal"}
    }},
   {"data": {"name": "flux"},
    "transform": [{"filter": "datum.well==='MW13I'&&datum.series==='DCE Flux'"}],
    "mark": {"type": "bar", "orient": "horizontal", "size": 4.4, "yOffset": -4.3, "stroke": "black", "strokeWidth": 0.8},
    "encoding": {
     "x": {"field": "value", "type": "quantitative", "stack": null, "scale": {"domain": [0, 1], "range": [1019, 827], "nice": false, "zero": false}, "axis": {"orient": "top", "offset": -149, "values": [0.25, 0.75], "tickSize": 12, "labels": false, "domain": false, "title": null}},
     "y": {"field": "elev", "type": "quantitative", "axis": {"orient": "right", "offset": -671, "values": [256, 258, 260, 262, 264, 266], "tickSize": 12, "labels": false, "domain": false, "title": null}},
     "color": {"field": "series", "type": "nominal"}
    }}
  ], "resolve": {"axis": {"x": "independent", "y": "independent"}}}
 ], "resolve": {"scale": {"x": "independent"}, "axis": {"x": "independent", "y": "independent"}}},

 {"layer": [
  {"layer": [
   {"data": {"name": "flux"},
    "transform": [{"filter": "datum.well==='MW2-98'&&datum.series==='GW Flux'"}],
    "mark": {"type": "bar", "orient": "horizontal", "size": 4.4, "yOffset": 4.3, "stroke": "black", "strokeWidth": 0.8},
    "encoding": {
     "x": {"field": "value", "type": "quantitative", "stack": null, "scale": {"domain": [0, 2], "range": [1329, 1136], "nice": false, "zero": false}, "axis": {"orient": "bottom", "offset": -222.5, "values": [0, 0.5, 1, 1.5, 2], "tickSize": -14, "labelPadding": 56.5, "format": ".3~f", "title": null}},
     "y": {"field": "elev", "type": "quantitative"},
     "color": {"field": "series", "type": "nominal"}
    }},
   {"mark": {"type": "text", "fontSize": 34, "fontWeight": "bold"}, "encoding": {"x": {"datum": 2.404}, "y": {"datum": 268.74}, "text": {"value": "J"}}},
   {"mark": {"type": "text", "fontSize": 24, "fontWeight": "bold", "dx": 19.2, "dy": 8}, "encoding": {"x": {"datum": 2.404}, "y": {"datum": 268.74}, "text": {"value": "TCE/DCE"}}},
   {"mark": {"type": "text", "fontSize": 34, "fontWeight": "bold", "dx": 125.5}, "encoding": {"x": {"datum": 2.404}, "y": {"datum": 268.74}, "text": {"value": "(g/m²/d)"}}},
   {"mark": {"type": "text", "fontSize": 30, "fontWeight": "bold"}, "encoding": {"x": {"datum": 1.922, "axis": {"orient": "bottom", "offset": -222.5, "values": [0.25, 0.75, 1.25, 1.75], "tickSize": -14, "labels": false, "domain": false, "title": null}}, "y": {"datum": 253.12}, "text": {"value": "q"}}},
   {"mark": {"type": "text", "fontSize": 20, "fontWeight": "bold", "dx": 18.8, "dy": 7}, "encoding": {"x": {"datum": 1.922}, "y": {"datum": 253.12}, "text": {"value": "0"}}},
   {"mark": {"type": "text", "fontSize": 30, "fontWeight": "bold", "dx": 37}, "encoding": {"x": {"datum": 1.922}, "y": {"datum": 253.12}, "text": {"value": "(cm/d)"}}},
   {"mark": {"type": "text", "align": "center", "fontSize": 48, "fontWeight": "bold"}, "encoding": {"x": {"datum": 1.094}, "y": {"datum": 263.87}, "text": {"value": "MW2-98"}}},
   {"mark": {"type": "text", "align": "center", "fontSize": 30, "font": "DejaVu Sans"}, "encoding": {"x": {"datum": -0.249}, "y": {"datum": 266.33}, "text": {"value": "∇"}}},
   {"mark": {"type": "rule", "color": "black", "strokeWidth": 1.5}, "encoding": {"x": {"datum": -0.04}, "x2": {"datum": -0.497}, "y": {"datum": 266.3}}},

   {"mark": {"type": "rect", "fill": "transparent", "stroke": "#FF0000", "strokeWidth": 3, "cornerRadius": 14}, "encoding": {"x": {"datum": 2.259}, "x2": {"datum": 0.0674}, "y": {"datum": 263.599}, "y2": {"datum": 261.716}}},
   {"mark": {"type": "text", "fontSize": 34}, "encoding": {"x": {"datum": 1.99}, "y": {"datum": 262.809}, "text": {"value": "J"}}},
   {"mark": {"type": "text", "fontSize": 19, "dx": 17.5, "dy": 9}, "encoding": {"x": {"datum": 1.99}, "y": {"datum": 262.809}, "text": {"value": "TCE,avg"}}},
   {"mark": {"type": "text", "fontSize": 34, "dx": 92.4}, "encoding": {"x": {"datum": 1.99}, "y": {"datum": 262.809}, "text": {"value": "="}}},
   {"mark": {"type": "text", "fontSize": 34, "dy": 47}, "encoding": {"x": {"datum": 1.99}, "y": {"datum": 262.809}, "text": {"value": "0.15 g/m²/d"}}},

   {"mark": {"type": "rect", "fill": "transparent", "stroke": "#FF66CC", "strokeWidth": 3, "cornerRadius": 14}, "encoding": {"x": {"datum": 2.346}, "x2": {"datum": 0.0674}, "y": {"datum": 261.195}, "y2": {"datum": 259.161}}},
   {"mark": {"type": "text", "fontSize": 34}, "encoding": {"x": {"datum": 2.104}, "y": {"datum": 260.405}, "text": {"value": "J"}}},
   {"mark": {"type": "text", "fontSize": 19, "dx": 17.5, "dy": 9}, "encoding": {"x": {"datum": 2.104}, "y": {"datum": 260.405}, "text": {"value": "DCE,avg"}}},
   {"mark": {"type": "text", "fontSize": 34, "dx": 94.5}, "encoding": {"x": {"datum": 2.104}, "y": {"datum": 260.405}, "text": {"value": "="}}},
   {"mark": {"type": "text", "fontSize": 34, "dy": 46}, "encoding": {"x": {"datum": 2.104}, "y": {"datum": 260.405}, "text": {"value": "0.001 g/m²/d"}}}
  ], "resolve": {"axis": {"x": "independent", "y": "independent"}}},
  {"layer": [
   {"data": {"name": "flux"},
    "transform": [{"filter": "datum.well==='MW2-98'&&datum.series==='TCE Flux'"}],
    "mark": {"type": "bar", "orient": "horizontal", "size": 4.4, "stroke": "black", "strokeWidth": 0.8},
    "encoding": {
     "x": {"field": "value", "type": "quantitative", "stack": null, "scale": {"domain": [0, 1.6], "range": [1329, 1136], "nice": false, "zero": false}, "axis": {"orient": "top", "offset": -149, "values": [0, 0.8, 1.6], "tickSize": 24, "labelPadding": 12, "format": ".3~f", "title": null}},
     "y": {"field": "elev", "type": "quantitative", "axis": {"orient": "right", "offset": -361, "values": [255, 257, 259, 261, 263, 265, 267], "tickSize": 24, "labels": false, "title": null}},
     "color": {"field": "series", "type": "nominal"}
    }},
   {"data": {"name": "flux"},
    "transform": [{"filter": "datum.well==='MW2-98'&&datum.series==='DCE Flux'"}],
    "mark": {"type": "bar", "orient": "horizontal", "size": 4.4, "yOffset": -4.3, "stroke": "black", "strokeWidth": 0.8},
    "encoding": {
     "x": {"field": "value", "type": "quantitative", "stack": null, "scale": {"domain": [0, 1.6], "range": [1329, 1136], "nice": false, "zero": false}, "axis": {"orient": "top", "offset": -149, "values": [0.4, 1.2], "tickSize": 12, "labels": false, "domain": false, "title": null}},
     "y": {"field": "elev", "type": "quantitative", "axis": {"orient": "right", "offset": -361, "values": [256, 258, 260, 262, 264, 266], "tickSize": 12, "labels": false, "domain": false, "title": null}},
     "color": {"field": "series", "type": "nominal"}
    }}
  ], "resolve": {"axis": {"x": "independent", "y": "independent"}}}
 ], "resolve": {"scale": {"x": "independent"}, "axis": {"x": "independent", "y": "independent"}}},

 {"layer": [
  {"layer": [
   {"data": {"name": "flux"},
    "transform": [{"filter": "datum.well==='MW8-99'&&datum.series==='GW Flux'"}],
    "mark": {"type": "bar", "orient": "horizontal", "size": 4.4, "yOffset": 4.3, "stroke": "black", "strokeWidth": 0.8},
    "encoding": {
     "x": {"field": "value", "type": "quantitative", "stack": null, "scale": {"domain": [0, 2], "range": [1600, 1432], "nice": false, "zero": false}, "axis": {"orient": "bottom", "offset": -222.5, "values": [0, 0.5, 1, 1.5, 2], "tickSize": -14, "labelPadding": 56.5, "format": ".3~f", "title": null}},
     "y": {"field": "elev", "type": "quantitative"},
     "color": {"field": "series", "type": "nominal"}
    }},
   {"mark": {"type": "rect", "fill": "#B0B0B0"}, "encoding": {"x": {"datum": 3.345}, "x2": {"datum": -1.08}, "y": {"datum": 269.42}, "y2": {"datum": 269.303}}},
   {"mark": {"type": "text", "fontSize": 34, "fontWeight": "bold"}, "encoding": {"x": {"datum": 2.589}, "y": {"datum": 268.74}, "text": {"value": "J"}}},
   {"mark": {"type": "text", "fontSize": 24, "fontWeight": "bold", "dx": 19.2, "dy": 8}, "encoding": {"x": {"datum": 2.589}, "y": {"datum": 268.74}, "text": {"value": "TCE/DCE"}}},
   {"mark": {"type": "text", "fontSize": 34, "fontWeight": "bold", "dx": 125.5}, "encoding": {"x": {"datum": 2.589}, "y": {"datum": 268.74}, "text": {"value": "(g/m²/d)"}}},
   {"mark": {"type": "text", "fontSize": 30, "fontWeight": "bold"}, "encoding": {"x": {"datum": 1.893, "axis": {"orient": "bottom", "offset": -222.5, "values": [0.25, 0.75, 1.25, 1.75], "tickSize": -14, "labels": false, "domain": false, "title": null}}, "y": {"datum": 253.12}, "text": {"value": "q"}}},
   {"mark": {"type": "text", "fontSize": 20, "fontWeight": "bold", "dx": 18.8, "dy": 7}, "encoding": {"x": {"datum": 1.893}, "y": {"datum": 253.12}, "text": {"value": "0"}}},
   {"mark": {"type": "text", "fontSize": 30, "fontWeight": "bold", "dx": 37}, "encoding": {"x": {"datum": 1.893}, "y": {"datum": 253.12}, "text": {"value": "(cm/d)"}}},
   {"mark": {"type": "text", "align": "center", "fontSize": 48, "fontWeight": "bold"}, "encoding": {"x": {"datum": 0.988}, "y": {"datum": 266.03}, "text": {"value": "MW8-99"}}},
   {"mark": {"type": "text", "align": "center", "fontSize": 30, "font": "DejaVu Sans"}, "encoding": {"x": {"datum": -0.298}, "y": {"datum": 266.0}, "text": {"value": "∇"}}},
   {"mark": {"type": "rule", "color": "black", "strokeWidth": 1.5}, "encoding": {"x": {"datum": -0.036}, "x2": {"datum": -0.524}, "y": {"datum": 265.97}}},

   {"mark": {"type": "rect", "fill": "transparent", "stroke": "#FF0000", "strokeWidth": 3, "cornerRadius": 14}, "encoding": {"x": {"datum": 2.036}, "x2": {"datum": 0.0595}, "y": {"datum": 264.742}, "y2": {"datum": 262.708}}},
   {"mark": {"type": "text", "fontSize": 30}, "encoding": {"x": {"datum": 1.905}, "y": {"datum": 263.986}, "text": {"value": "J"}}},
   {"mark": {"type": "text", "fontSize": 17, "dx": 15.5, "dy": 8}, "encoding": {"x": {"datum": 1.905}, "y": {"datum": 263.986}, "text": {"value": "TCE,avg"}}},
   {"mark": {"type": "text", "fontSize": 30, "dx": 82.6}, "encoding": {"x": {"datum": 1.905}, "y": {"datum": 263.986}, "text": {"value": "="}}},
   {"mark": {"type": "text", "fontSize": 30, "dy": 48}, "encoding": {"x": {"datum": 1.905}, "y": {"datum": 263.986}, "text": {"value": "0.95 g/m²/d"}}},

   {"mark": {"type": "rect", "fill": "transparent", "stroke": "#FF66CC", "strokeWidth": 3, "cornerRadius": 14}, "encoding": {"x": {"datum": 2.315}, "x2": {"datum": 0.0595}, "y": {"datum": 260.447}, "y2": {"datum": 258.404}}},
   {"mark": {"type": "text", "fontSize": 30}, "encoding": {"x": {"datum": 2.137}, "y": {"datum": 259.43}, "text": {"value": "J"}}},
   {"mark": {"type": "text", "fontSize": 17, "dx": 15.5, "dy": 8}, "encoding": {"x": {"datum": 2.137}, "y": {"datum": 259.43}, "text": {"value": "DCE,avg"}}},
   {"mark": {"type": "text", "fontSize": 30, "dx": 84.5}, "encoding": {"x": {"datum": 2.137}, "y": {"datum": 259.43}, "text": {"value": "="}}},
   {"mark": {"type": "text", "fontSize": 30, "dy": 44}, "encoding": {"x": {"datum": 2.137}, "y": {"datum": 259.43}, "text": {"value": "0.014 g/m²/d"}}},

   {"mark": {"type": "rule", "color": "#00CCFF", "strokeWidth": 5}, "encoding": {"x": {"datum": 19.05}, "x2": {"datum": 0.06}, "y": {"datum": 258.287}}}
  ], "resolve": {"axis": {"x": "independent", "y": "independent"}}},
  {"layer": [
   {"data": {"name": "flux"},
    "transform": [{"filter": "datum.well==='MW8-99'&&datum.series==='TCE Flux'"}],
    "mark": {"type": "bar", "orient": "horizontal", "size": 4.4, "stroke": "black", "strokeWidth": 0.8},
    "encoding": {
     "x": {"field": "value", "type": "quantitative", "stack": null, "scale": {"domain": [0, 1.6], "range": [1600, 1432], "nice": false, "zero": false}, "axis": {"orient": "top", "offset": -149, "values": [0, 0.8, 1.6], "tickSize": 24, "labelPadding": 12, "format": ".3~f", "title": null}},
     "y": {"field": "elev", "type": "quantitative", "axis": {"orient": "right", "offset": -90, "values": [255, 257, 259, 261, 263, 265, 267], "tickSize": 24, "labels": true, "labelPadding": 10, "format": ".3~f", "title": null}},
     "color": {"field": "series", "type": "nominal"}
    }},
   {"data": {"name": "flux"},
    "transform": [{"filter": "datum.well==='MW8-99'&&datum.series==='DCE Flux'"}],
    "mark": {"type": "bar", "orient": "horizontal", "size": 4.4, "yOffset": -4.3, "stroke": "black", "strokeWidth": 0.8},
    "encoding": {
     "x": {"field": "value", "type": "quantitative", "stack": null, "scale": {"domain": [0, 1.6], "range": [1600, 1432], "nice": false, "zero": false}, "axis": {"orient": "top", "offset": -149, "values": [0.4, 1.2], "tickSize": 12, "labels": false, "domain": false, "title": null}},
     "y": {"field": "elev", "type": "quantitative", "axis": {"orient": "right", "offset": -90, "values": [256, 258, 260, 262, 264, 266], "tickSize": 12, "labels": false, "domain": false, "title": null}},
     "color": {"field": "series", "type": "nominal"}
    }}
  ], "resolve": {"axis": {"x": "independent", "y": "independent"}}}
 ], "resolve": {"scale": {"x": "independent"}, "axis": {"x": "independent", "y": "independent"}}},

 {"data": {"name": "dist"},
  "layer": [
   {"mark": {"type": "rule", "color": "black", "strokeWidth": 2.5},
    "encoding": {"x": {"aggregate": "max", "field": "dist", "type": "quantitative", "scale": {"domain": [160, 86, 30, 12, 0], "range": [294, 642, 982, 1253.5, 1518.6], "nice": false, "zero": false}}, "x2": {"aggregate": "min", "field": "dist"}, "y": {"datum": 252.554}}},
   {"mark": {"type": "point", "filled": true, "color": "black", "size": 130, "opacity": 1},
    "encoding": {"x": {"field": "dist", "type": "quantitative"}, "y": {"datum": 252.554}}},
   {"transform": [{"filter": "datum.dist > 0"}],
    "mark": {"type": "text", "align": "center", "fontSize": 50, "font": "'Liberation Sans Narrow', 'Liberation Sans', sans-serif", "dx": 22},
    "encoding": {"x": {"field": "dist", "type": "quantitative"}, "y": {"datum": 251.36}, "text": {"field": "label"}}},
   {"transform": [{"filter": "datum.dist === 0"}],
    "mark": {"type": "text", "align": "center", "fontSize": 50, "font": "'Liberation Sans Narrow', 'Liberation Sans', sans-serif"},
    "encoding": {"x": {"field": "dist", "type": "quantitative"}, "y": {"datum": 251.36}, "text": {"field": "label"}}},
   {"data": {"values": [{}]},
    "mark": {"type": "text", "fontSize": 34, "font": "Liberation Serif", "color": "#111122"},
    "encoding": {"x": {"datum": -4.27}, "y": {"datum": 251.3}, "text": {"value": "PUR"}}}
  ],
  "resolve": {"axis": {"x": "independent", "y": "independent"}}}
],
"resolve": {"scale": {"x": "independent"}, "axis": {"x": "independent", "y": "independent"}}
}
